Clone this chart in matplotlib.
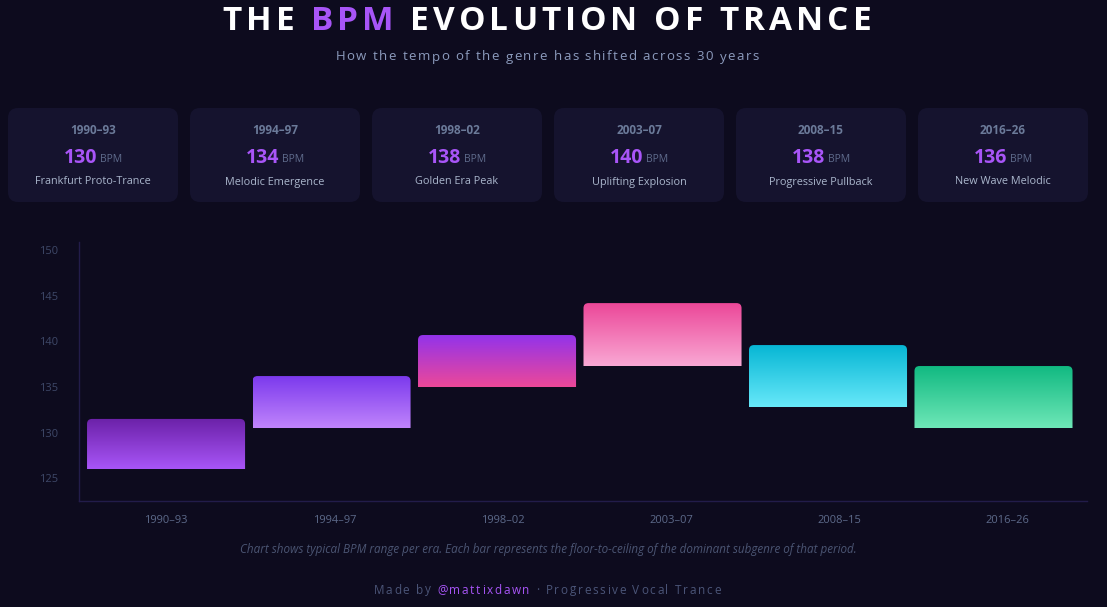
import numpy as np
import matplotlib
matplotlib.use("Agg")
import matplotlib.pyplot as plt
from matplotlib.patches import FancyBboxPatch, PathPatch
from matplotlib.path import Path
from matplotlib.colors import to_rgb
from matplotlib.font_manager import findfont, FontProperties
from matplotlib.ft2font import FT2Font

# data
eras = ["1990–93", "1994–97", "1998–02", "2003–07", "2008–15", "2016–26"]
bpm_typical = [130, 134, 138, 140, 138, 136]
era_names = ["Frankfurt Proto-Trance", "Melodic Emergence", "Golden Era Peak",
             "Uplifting Explosion", "Progressive Pullback", "New Wave Melodic"]
bpm_low = [126, 130.5, 135, 137.3, 132.8, 130.5]
bpm_high = [131.5, 136.2, 140.7, 144.2, 139.6, 137.3]
grad_top = ["#6b21a8", "#7c3aed", "#9333ea", "#ec4899", "#06b6d4", "#10b981"]
grad_bottom = ["#a855f7", "#c084fc", "#ec4899", "#f9a8d4", "#67e8f9", "#6ee7b7"]

W, H = 1107, 607
BG = "#0d0b1e"
CARD = "#15132e"
FONT = "Open Sans"

plt.rcParams["font.family"] = [FONT, "DejaVu Sans"]

fig = plt.figure(figsize=(W / 100, H / 100), dpi=100, facecolor=BG)
bg = fig.add_axes([0, 0, 1, 1], zorder=0)
bg.set_xlim(0, W)
bg.set_ylim(H, 0)
bg.axis("off")


def advances(s, size, weight="normal", style="normal"):
    f = FT2Font(findfont(FontProperties(family=FONT, weight=weight, style=style)))
    f.set_size(size, 100)
    return [f.load_char(ord(c)).linearHoriAdvance / 65536 for c in s]


def spaced_text(segments, cx, y, size, spacing, weight="normal"):
    # segments: list of (text, color); draws letter-spaced text centered on cx
    chars = []
    for txt, col in segments:
        for c in txt:
            chars.append((c, col))
    adv = advances("".join(c for c, _ in chars), size, weight)
    total = sum(adv) + spacing * (len(chars) - 1)
    x = cx - total / 2
    for (c, col), a in zip(chars, adv):
        bg.text(x, y, c, color=col, fontsize=size, fontweight=weight,
                ha="left", va="center")
        x += a + spacing


# title and subtitle
spaced_text([("THE ", "white"), ("BPM", "#a855f7"), (" EVOLUTION OF TRANCE", "white")],
            547, 21, 24, 4.0, weight="bold")
spaced_text([("How the tempo of the genre has shifted across 30 years", "#8c9bbd")],
            547, 57, 9.5, 1.5)

# era cards
for i in range(len(eras)):
    x0 = 8 + 182 * i
    card = FancyBboxPatch((x0 + 8, 116), 154, 78, boxstyle="round,pad=8,rounding_size=10",
                          fc=CARD, ec="none")
    bg.add_patch(card)
    cx = x0 + 85
    bg.text(cx, 131, eras[i], color="#6b7a99", fontsize=8.5, fontweight="bold",
            ha="center", va="center")
    num = str(bpm_typical[i])
    wn = sum(advances(num, 14, "bold"))
    wb = sum(advances("BPM", 7.5))
    gap = 3
    left = cx - (wn + gap + wb) / 2
    bg.text(left, 158, num, color="#a855f7", fontsize=14, fontweight="bold",
            ha="left", va="center")
    bg.text(left + wn + gap, 160, "BPM", color="#5f6b8c", fontsize=7.5,
            ha="left", va="center")
    bg.text(cx, 182, era_names[i], color="#aab6cc", fontsize=7.8,
            ha="center", va="center")

# chart
ax = fig.add_axes([79 / W, 1 - 501 / H, (1087 - 79) / W, (501 - 242) / H], zorder=1)
ax.set_facecolor("none")
xlim = (-0.526, 5.565)
ylim = (122.5, 150.9)
bar_w = 0.955
rx = 5 * (xlim[1] - xlim[0]) / (1087 - 79)
ry = 5 * (ylim[1] - ylim[0]) / (501 - 242)

for i in range(len(eras)):
    x0, x1 = i - bar_w / 2, i + bar_w / 2
    y0, y1 = bpm_low[i], bpm_high[i]
    verts = [(x0, y0), (x1, y0), (x1, y1 - ry), (x1, y1), (x1 - rx, y1),
             (x0 + rx, y1), (x0, y1), (x0, y1 - ry), (x0, y0)]
    codes = [Path.MOVETO, Path.LINETO, Path.LINETO, Path.CURVE3, Path.CURVE3,
             Path.LINETO, Path.CURVE3, Path.CURVE3, Path.CLOSEPOLY]
    patch = PathPatch(Path(verts, codes), fc="none", ec="none")
    ax.add_patch(patch)
    t = np.linspace(0, 1, 64)[:, None]
    c0, c1 = np.array(to_rgb(grad_bottom[i])), np.array(to_rgb(grad_top[i]))
    img = (c0 * (1 - t) + c1 * t)[:, None, :]
    im = ax.imshow(img, extent=[x0, x1, y0, y1], origin="lower", aspect="auto",
                   interpolation="bilinear", zorder=2)
    im.set_clip_path(patch)

ax.set_xlim(*xlim)
ax.set_ylim(*ylim)
ax.set_xticks(np.arange(len(eras)) * 1.017)
ax.set_xticklabels(eras)
ax.set_yticks([125, 130, 135, 140, 145, 150])
ax.tick_params(axis="both", length=0, labelsize=8)
ax.tick_params(axis="x", colors="#5d6a8a", pad=10)
ax.tick_params(axis="y", colors="#3e4868", pad=15)
for s in ["top", "right"]:
    ax.spines[s].set_visible(False)
for s in ["left", "bottom"]:
    ax.spines[s].set_color("#221c4a")
    ax.spines[s].set_linewidth(1)

# notes
bg.text(548, 550, "Chart shows typical BPM range per era. Each bar represents the "
        "floor-to-ceiling of the dominant subgenre of that period.",
        color="#4b5573", fontsize=8.4, style="italic", ha="center", va="center")
spaced_text([("Made by ", "#4b5578"), ("@mattixdawn", "#a855f7"),
             (" · Progressive Vocal Trance", "#4b5578")], 547, 590, 8.5, 1.7)

fig.savefig("out.png", dpi=100, facecolor=BG)
